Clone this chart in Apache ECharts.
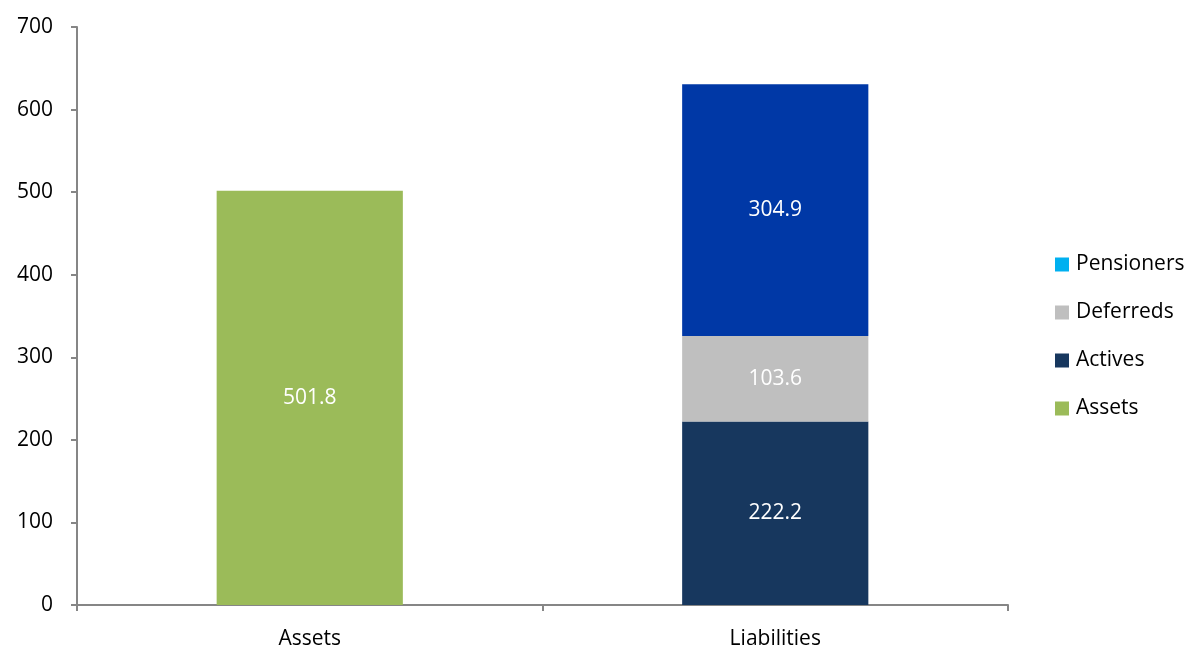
<!DOCTYPE html>
<html>
<head>
<meta charset="utf-8">
<script src="https://cdn.jsdelivr.net/npm/echarts@6/dist/echarts.min.js"></script>
<style>
  html, body { margin: 0; padding: 0; background: #fff; }
  #chart { width: 1194px; height: 650px; }
</style>
</head>
<body>
<div id="chart"></div>
<script>
// categories and values
let categories = ['Assets', 'Liabilities'];
let assets = [501.8, '-'];
let actives = ['-', 222.2];
let deferreds = ['-', 103.6];
let pensioners = ['-', 304.9];
let yTicks = [0, 100, 200, 300, 400, 500, 600, 700];

let font = '"Open Sans", "Noto Sans", sans-serif';
let axisGray = '#868686';

let label = {
    show: true,
    position: 'inside',
    color: '#fff',
    fontSize: 21,
    fontFamily: font,
    formatter: p => p.value.toFixed(1)
};

let option = {
    animation: false,
    grid: { left: 77, right: 186, top: 27, bottom: 45 },
    legend: {
        orient: 'vertical',
        left: 1050,
        top: 249,
        icon: 'rect',
        itemWidth: 14,
        itemHeight: 14,
        itemGap: 27,
        textStyle: { color: '#000', fontSize: 21, fontFamily: font, padding: [0, 0, 0, 2] },
        data: ['Pensioners', 'Deferreds', 'Actives', 'Assets']
    },
    xAxis: {
        type: 'category',
        data: categories,
        axisLine: { lineStyle: { color: axisGray, width: 2 } },
        axisTick: { show: true, length: 6, lineStyle: { color: axisGray, width: 2 } },
        axisLabel: { color: '#000', fontSize: 21, fontFamily: font, margin: 24 }
    },
    yAxis: {
        type: 'value',
        min: yTicks[0],
        max: yTicks[yTicks.length - 1],
        interval: 100,
        axisLine: { show: true, lineStyle: { color: axisGray, width: 2 } },
        axisTick: { show: true, length: 6, lineStyle: { color: axisGray, width: 2 } },
        splitLine: { show: false },
        axisLabel: { color: '#000', fontSize: 21, fontFamily: font, margin: 24 }
    },
    series: [
        {
            name: 'Assets', type: 'bar', stack: 'total', barWidth: '40%',
            itemStyle: { color: '#9BBB59' }, label: label, data: assets
        },
        {
            name: 'Actives', type: 'bar', stack: 'total',
            itemStyle: { color: '#17375E' }, label: label, data: actives
        },
        {
            name: 'Deferreds', type: 'bar', stack: 'total',
            itemStyle: { color: '#BFBFBF' }, label: label, data: deferreds
        },
        {
            // legend swatch is light blue, the bar itself is dark blue
            name: 'Pensioners', type: 'bar', stack: 'total',
            itemStyle: { color: '#00B0F0' }, label: label,
            data: pensioners.map(v => v === '-' ? v : { value: v, itemStyle: { color: '#0038A6' } })
        }
    ]
};

let myChart = echarts.init(document.getElementById('chart'));
myChart.setOption(option);
</script>
</body>
</html>
